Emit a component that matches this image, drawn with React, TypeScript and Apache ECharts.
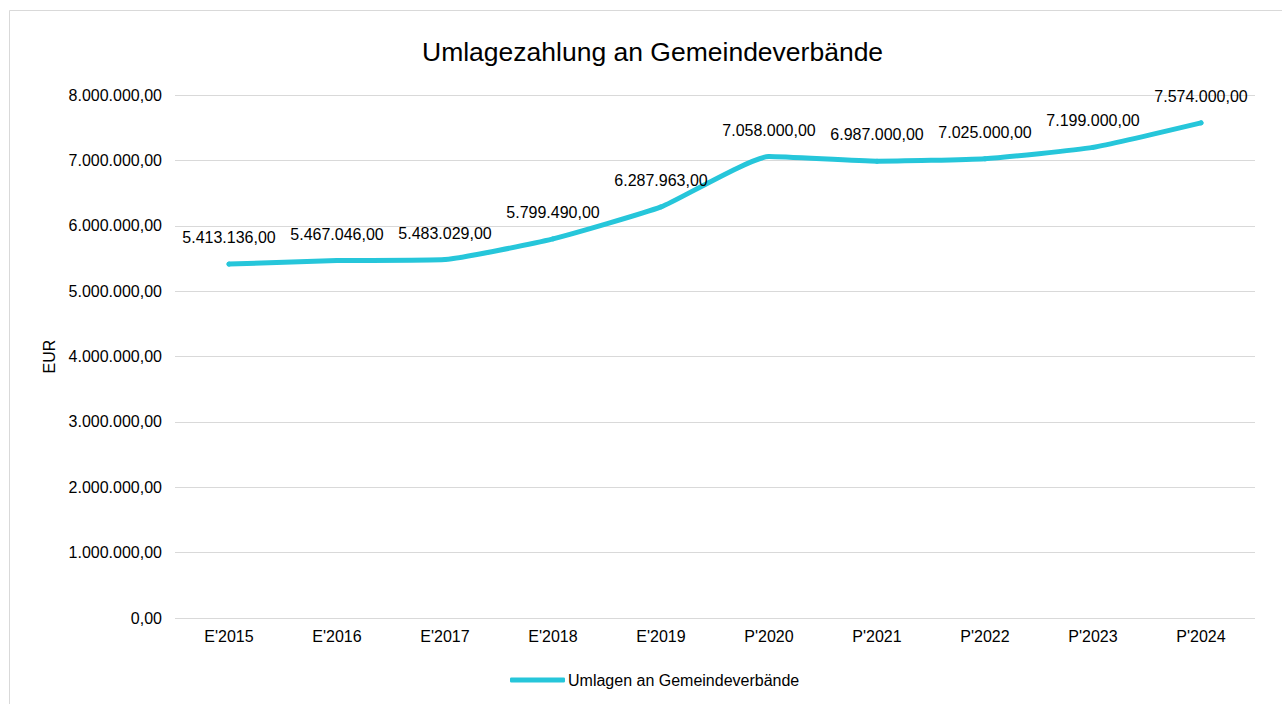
import React, { useEffect, useRef } from "react";
import * as echarts from "echarts";

const categories = ["E'2015", "E'2016", "E'2017", "E'2018", "E'2019", "P'2020", "P'2021", "P'2022", "P'2023", "P'2024"];
const values = [5413136, 5467046, 5483029, 5799490, 6287963, 7058000, 6987000, 7025000, 7199000, 7574000];
const seriesName = "Umlagen an Gemeindeverbände";
const titleText = "Umlagezahlung an Gemeindeverbände";
const yAxisName = "EUR";

function fmt(v: number): string {
  const neg = v < 0;
  const a = Math.abs(v);
  const intPart = Math.floor(a);
  const dec = Math.round((a - intPart) * 100);
  const s = String(intPart).replace(/\B(?=(\d{3})+(?!\d))/g, ".");
  return (neg ? "-" : "") + s + "," + String(dec).padStart(2, "0");
}

export default function App() {
  const ref = useRef<HTMLDivElement>(null);
  useEffect(() => {
    document.body.style.margin = "0";
    const chart = echarts.init(ref.current!, null, { renderer: "svg" });
    const font = "'Liberation Sans', Arial, sans-serif";
    chart.setOption({
      animation: false,
      textStyle: { fontFamily: font },
      title: {
        text: titleText,
        left: 417,
        top: 33,
        textStyle: { fontFamily: font, fontSize: 26.5, fontWeight: "normal", color: "#000" },
      },
      graphic: [
        {
          type: "rect",
          shape: { x: 9.5, y: 10.5, width: 1400, height: 900 },
          style: { fill: "none", stroke: "#d9d9d9", lineWidth: 1 },
          silent: true,
        },
      ],
      legend: {
        bottom: 16,
        left: 510,
        padding: 0,
        itemWidth: 55,
        itemHeight: 5,
        itemGap: 10,
        textStyle: { fontFamily: font, fontSize: 16, color: "#000", padding: [0, 0, 0, -2] },
        data: [{ name: seriesName, icon: "roundRect", itemStyle: { color: "#26C6DA", opacity: 1 } }],
      },
      grid: { left: 175, right: 27, top: 95, bottom: 86 },
      xAxis: {
        type: "category",
        data: categories,
        boundaryGap: true,
        axisLine: { show: false },
        axisTick: { show: false },
        axisLabel: { fontFamily: font, fontSize: 16, color: "#000", margin: 10 },
      },
      yAxis: {
        type: "value",
        min: 0,
        max: 8000000,
        interval: 1000000,
        name: yAxisName,
        nameLocation: "middle",
        nameGap: 115,
        nameRotate: 90,
        nameTextStyle: { fontFamily: font, fontSize: 16, color: "#000" },
        axisLine: { show: false },
        axisTick: { show: false },
        axisLabel: { fontFamily: font, fontSize: 16, color: "#000", margin: 13, formatter: (v: number) => fmt(v) },
        splitLine: { lineStyle: { color: "#d9d9d9", width: 1 } },
      },
      series: [
        {
          name: seriesName,
          type: "line",
          data: values,
          smooth: 0.15,
          showSymbol: true,
          symbol: "circle",
          symbolSize: 5,
          lineStyle: { color: "#26C6DA", width: 5, cap: "round", join: "round" },
          itemStyle: { color: "#26C6DA" },
          label: {
            show: true,
            position: "top",
            distance: 16,
            fontFamily: font,
            fontSize: 16,
            color: "#000",
            formatter: (p: any) => fmt(p.value),
          },
        },
      ],
    });
    return () => chart.dispose();
  }, []);
  return <div ref={ref} style={{ width: 1282, height: 704 }} />;
}
